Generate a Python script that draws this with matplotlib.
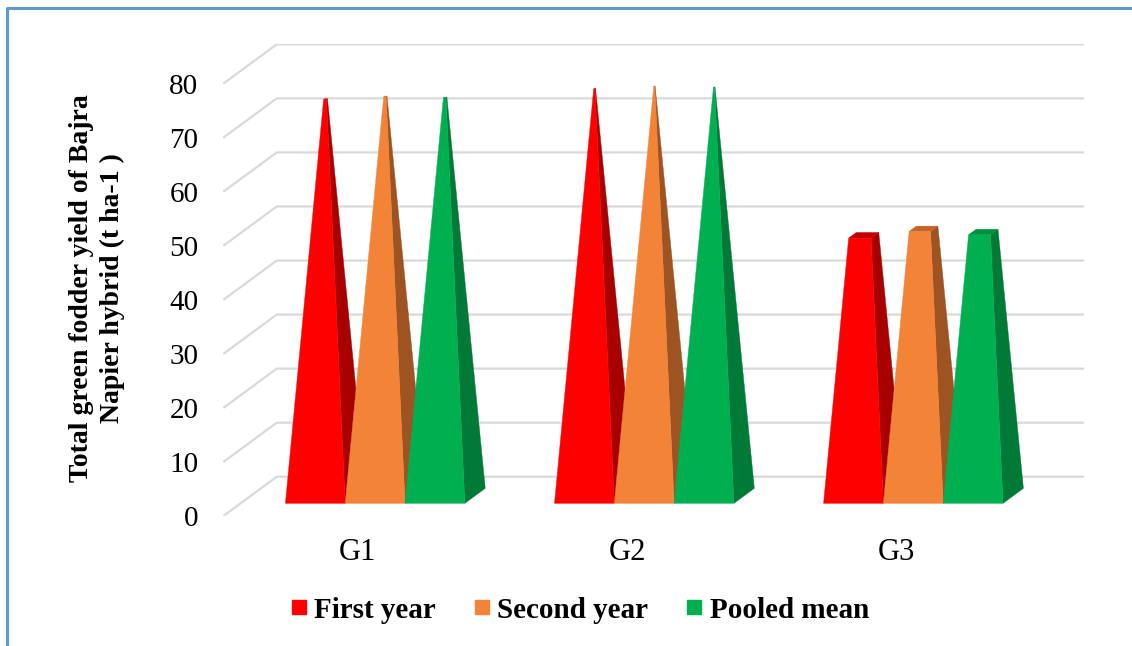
import matplotlib
matplotlib.use("Agg")
import matplotlib.pyplot as plt
from matplotlib.patches import Polygon
from matplotlib.lines import Line2D

plt.rcParams["font.family"] = ["Liberation Serif", "DejaVu Serif"]

categories = ["G1", "G2", "G3"]
series_names = ["First year", "Second year", "Pooled mean"]
first_year = [73.4, 75.3, 48.2]
second_year = [73.9, 75.8, 49.4]
pooled_mean = [73.7, 75.6, 48.8]
y_ticks = [0, 10, 20, 30, 40, 50, 60, 70, 80]

series_values = [first_year, second_year, pooled_mean]

# front, side and top face colours of each series
face_colors = [
    ("#FF0000", "#A80000", "#C40000"),
    ("#F38336", "#9E5422", "#C2652A"),
    ("#00B050", "#007A36", "#008F40"),
]

# oblique 3D projection: depth shifts to the right (x units) and up (value units)
DEPTH_X = 0.1985
DEPTH_Y = 7.27
PYRAMID_MAX = 77.1
BAR_W = 2 / 9
D0, D1 = 0.323, 0.705


def project(x, d, h):
    return (x + d * DEPTH_X, h + d * DEPTH_Y)


fig = plt.figure(figsize=(11.32, 6.46), dpi=100)
ax = fig.add_axes([0.1973, 0.2012, 0.7603, 0.7302])

x_min = -0.5
x_max = len(categories) - 0.5 + DEPTH_X
ax.set_xlim(x_min, x_max)
ax.set_ylim(0, y_ticks[-1] + DEPTH_Y)

# back wall and side wall gridlines
for v in y_ticks:
    ax.plot(
        [x_min, x_min + DEPTH_X, x_max],
        [v, v + DEPTH_Y, v + DEPTH_Y],
        color="#d9d9d9",
        linewidth=1.6,
        zorder=1,
        solid_capstyle="butt",
    )

z = 2
for g in range(len(categories)):
    for s, values in enumerate(series_values):
        v = values[g]
        front, side, top = face_colors[s]
        x0 = g - 1 / 3 + s * BAR_W
        x1 = x0 + BAR_W
        xc = (x0 + x1) / 2
        dc = (D0 + D1) / 2
        hw = BAR_W / 2
        hd = (D1 - D0) / 2
        k = 1 - v / PYRAMID_MAX

        t_fl = project(xc - hw * k, dc - hd * k, v)
        t_fr = project(xc + hw * k, dc - hd * k, v)
        t_br = project(xc + hw * k, dc + hd * k, v)
        t_bl = project(xc - hw * k, dc + hd * k, v)

        side_face = [project(x1, D0, 0), project(x1, D1, 0), t_br, t_fr]
        top_face = [t_fl, t_fr, t_br, t_bl]
        front_face = [project(x0, D0, 0), project(x1, D0, 0), t_fr, t_fl]

        ax.add_patch(Polygon(side_face, closed=True, facecolor=side,
                             edgecolor=side, linewidth=0.3, zorder=z))
        ax.add_patch(Polygon(top_face, closed=True, facecolor=top,
                             edgecolor=top, linewidth=0.3, zorder=z + 1))
        ax.add_patch(Polygon(front_face, closed=True, facecolor=front,
                             edgecolor=front, linewidth=0.3, zorder=z + 2))
        z += 3

for spine in ax.spines.values():
    spine.set_visible(False)

ax.set_yticks(y_ticks)
ax.set_yticklabels([str(v) for v in y_ticks], fontsize=21)
ax.set_xticks(range(len(categories)))
ax.set_xticklabels(categories, fontsize=22)
ax.tick_params(axis="y", length=0, pad=18)
ax.tick_params(axis="x", length=0, pad=16)

fig.text(
    97 / 1132,
    1 - 288 / 646,
    "Total green fodder yield of Bajra\nNapier hybrid (t ha-1 )",
    rotation=90,
    ha="center",
    va="center",
    multialignment="center",
    fontsize=20,
    fontweight="bold",
    linespacing=1.3,
)

handles = [
    Line2D([], [], marker="s", linestyle="none", markersize=10.5,
           markerfacecolor=face_colors[i][0], markeredgecolor=face_colors[i][0])
    for i in range(len(series_names))
]
fig.legend(
    handles,
    series_names,
    loc="center",
    bbox_to_anchor=(580 / 1132, 1 - 610 / 646),
    ncol=3,
    frameon=False,
    prop={"weight": "bold", "size": 21},
    handlelength=0.55,
    handletextpad=0.25,
    columnspacing=1.3,
)

# chart border (left and top edges)
fig.add_artist(Line2D([7.0 / 1132, 7.0 / 1132, 1.0], [0.0, 1 - 7.5 / 646, 1 - 7.5 / 646],
                      transform=fig.transFigure, color="#5B9BD5", linewidth=2.2))

fig.savefig("out.png", dpi=100)
